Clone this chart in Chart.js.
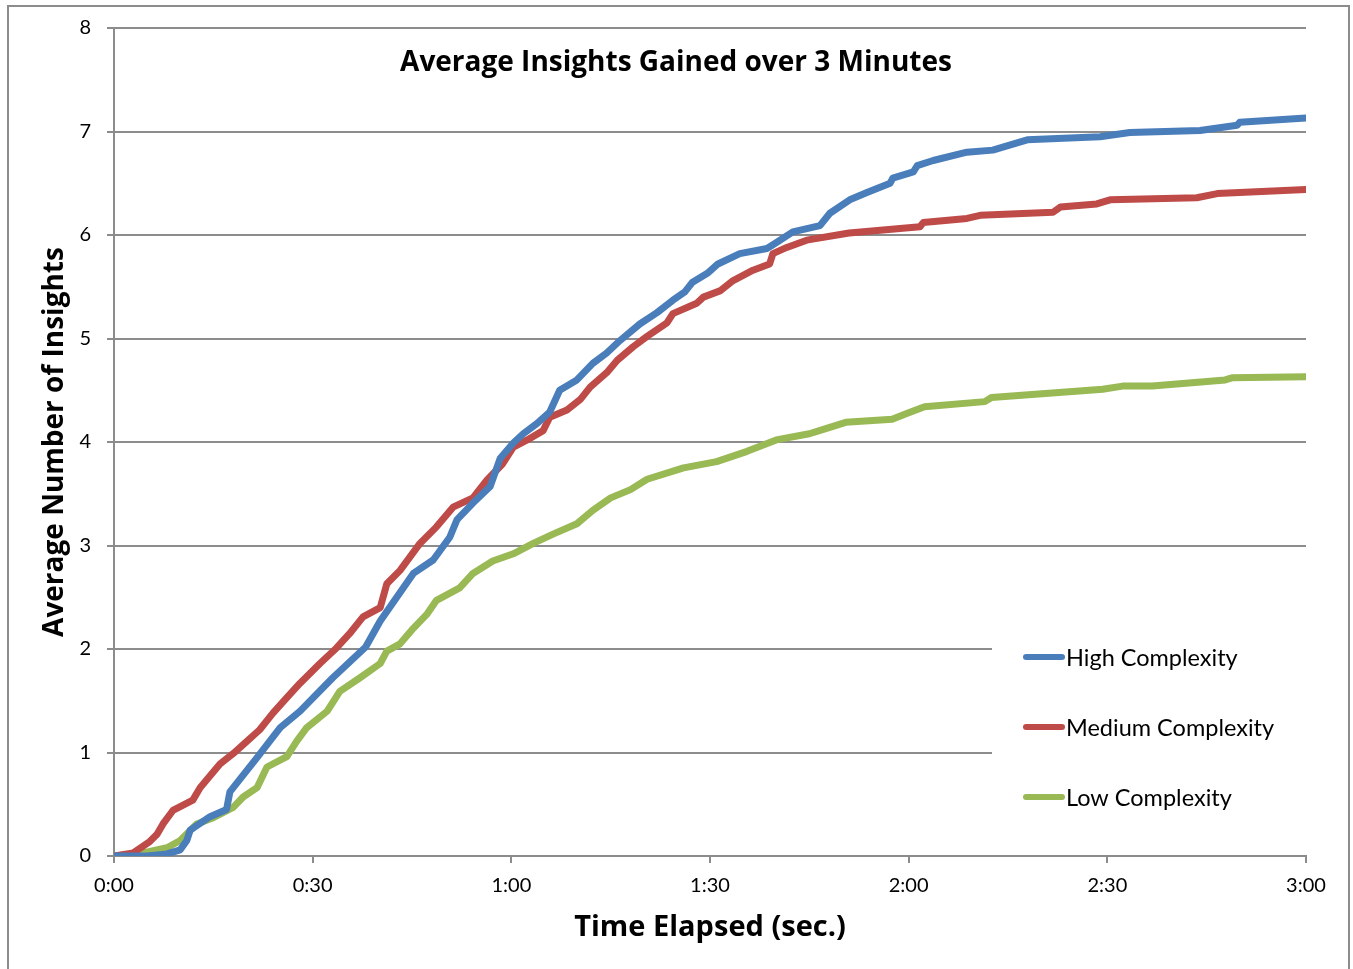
<!DOCTYPE html>
<html>
<head>
<meta charset="utf-8">
<title>Average Insights Gained over 3 Minutes</title>
<script src="https://cdn.jsdelivr.net/npm/chart.js@4.4.1/dist/chart.umd.min.js"></script>
<style>
  html, body { margin: 0; padding: 0; background: #fff; }
  canvas { display: block; }
</style>
</head>
<body>
<canvas id="insightsChart" width="1353" height="969"></canvas>
<script>
// values (time in seconds, average insights)
var seriesNames = ['High Complexity', 'Medium Complexity', 'Low Complexity'];
var seriesColors = ['#4a7ebb', '#be4b48', '#98b954'];

var highTimes = [0, 5, 8, 10, 11, 11.5, 14.5, 17, 17.5, 21.6, 25.1, 28.1, 33, 38, 40.2, 42.7, 45.2, 48.2, 50.7, 51.8, 54.2, 56.8, 58.3, 60.3, 61.8, 63.9, 65.8, 67.3, 69.9, 72.3, 74.4, 76.4, 79.4, 82, 84.4, 86.2, 87.3, 89.6, 91.2, 94.5, 98.6, 100.1, 102.5, 106.6, 108.1, 111.1, 113.7, 117.2, 117.6, 120.7, 121.3, 123.7, 128.8, 132.7, 137.9, 148.9, 153.4, 164, 169.6, 170, 180];
var highValues = [0, 0, 0.02, 0.06, 0.15, 0.25, 0.38, 0.45, 0.62, 0.95, 1.24, 1.4, 1.72, 2.02, 2.27, 2.5, 2.73, 2.86, 3.08, 3.25, 3.41, 3.57, 3.84, 3.99, 4.08, 4.18, 4.29, 4.5, 4.6, 4.76, 4.86, 4.98, 5.14, 5.25, 5.37, 5.45, 5.54, 5.63, 5.72, 5.82, 5.87, 5.93, 6.03, 6.09, 6.21, 6.34, 6.41, 6.5, 6.55, 6.61, 6.67, 6.72, 6.8, 6.82, 6.92, 6.95, 6.99, 7.01, 7.06, 7.09, 7.13];

var mediumTimes = [0, 2.9, 5.4, 6.5, 7.4, 8.9, 11.9, 13, 16, 18, 20.1, 22, 24, 26.1, 28.1, 31.1, 33.6, 35.6, 37.6, 40.2, 41.2, 43.2, 46.2, 48.7, 51.2, 54.2, 56.3, 58.7, 60.3, 62.4, 64.8, 65.8, 68.4, 70.4, 71.9, 74.4, 76, 78.4, 80.5, 83.5, 84.4, 88, 89, 91.5, 93.5, 96.5, 99, 99.5, 101.6, 104.6, 111, 121.7, 122.2, 128.8, 130.8, 141.8, 142.9, 148.4, 150.4, 163.5, 166.6, 180];
var mediumValues = [0, 0.03, 0.14, 0.21, 0.31, 0.44, 0.54, 0.66, 0.89, 0.99, 1.11, 1.22, 1.38, 1.53, 1.67, 1.86, 2.01, 2.15, 2.31, 2.4, 2.63, 2.76, 3.02, 3.18, 3.37, 3.46, 3.63, 3.79, 3.95, 4.02, 4.11, 4.24, 4.31, 4.41, 4.53, 4.67, 4.79, 4.92, 5.02, 5.15, 5.24, 5.34, 5.4, 5.46, 5.56, 5.66, 5.72, 5.82, 5.88, 5.95, 6.02, 6.08, 6.12, 6.16, 6.19, 6.22, 6.27, 6.3, 6.34, 6.36, 6.4, 6.44];

var lowTimes = [0, 4.4, 8, 10, 12.5, 15, 18, 19.5, 21.6, 23.1, 26.1, 27.6, 29.1, 32.2, 34.1, 37.1, 40.2, 41.2, 43.2, 45.2, 47.3, 48.7, 52.2, 54.2, 57.2, 60.3, 63.3, 66.3, 69.9, 72.3, 75, 78, 80.5, 86, 91, 95.6, 100, 105, 107, 110.5, 117.5, 119.9, 122.4, 131.5, 132.5, 149.3, 152.3, 156.8, 167.8, 168.8, 180];
var lowValues = [0, 0.03, 0.08, 0.15, 0.31, 0.37, 0.47, 0.57, 0.66, 0.86, 0.96, 1.11, 1.24, 1.4, 1.59, 1.72, 1.86, 1.98, 2.05, 2.2, 2.34, 2.47, 2.59, 2.73, 2.85, 2.92, 3.02, 3.11, 3.21, 3.34, 3.46, 3.54, 3.64, 3.75, 3.81, 3.91, 4.02, 4.08, 4.12, 4.19, 4.22, 4.28, 4.34, 4.39, 4.43, 4.51, 4.54, 4.54, 4.6, 4.62, 4.63];

var xTickValues = [0, 30, 60, 90, 120, 150, 180];
var xTickLabels = ['0:00', '0:30', '1:00', '1:30', '2:00', '2:30', '3:00'];
var yTickLabels = ['0', '1', '2', '3', '4', '5', '6', '7', '8'];

var FONT = 'Lato, "Open Sans", sans-serif';
var BOLD_FONT = '"Open Sans", Lato, sans-serif';
var GRID = '#8c8c8c';

function toPoints(times, values) {
  var pts = [];
  for (var i = 0; i < times.length; i++) pts.push({ x: times[i], y: values[i] });
  return pts;
}

function makeSet(i, times, values) {
  return {
    label: seriesNames[i],
    data: toPoints(times, values),
    borderColor: seriesColors[i],
    backgroundColor: seriesColors[i],
    borderWidth: 7,
    borderCapStyle: 'round',
    borderJoinStyle: 'round',
    pointRadius: 0,
    tension: 0,
    fill: false
  };
}

// title, legend box and outer frame drawn by hand to sit where the original has them
var decorations = {
  id: 'decorations',
  beforeDatasetsDraw: function(chart) {
    var ctx = chart.ctx;
    var area = chart.chartArea;
    ctx.save();
    ctx.fillStyle = '#fff';
    ctx.fillRect(992, 585, area.right - 992 + 2, 245);
    ctx.restore();
  },
  afterDraw: function(chart) {
    var ctx = chart.ctx;
    ctx.save();
    ctx.strokeStyle = GRID;
    ctx.lineWidth = 2;
    ctx.strokeRect(8, 6, 1341, 1000);

    ctx.fillStyle = '#000';
    ctx.font = 'bold 28px ' + BOLD_FONT;
    ctx.textAlign = 'center';
    ctx.textBaseline = 'middle';
    ctx.fillText('Average Insights Gained over 3 Minutes', 676, 63);

    ctx.font = '23.5px ' + FONT;
    ctx.textAlign = 'left';
    var rows = [657, 727, 797];
    chart.data.datasets.forEach(function(ds, i) {
      ctx.strokeStyle = ds.borderColor;
      ctx.lineWidth = 6;
      ctx.lineCap = 'round';
      ctx.beginPath();
      ctx.moveTo(1026, rows[i]);
      ctx.lineTo(1062, rows[i]);
      ctx.stroke();
      ctx.fillText(ds.label, 1066, rows[i] + 1);
    });
    ctx.restore();
  }
};

var ctx = document.getElementById('insightsChart');
new Chart(ctx, {
  type: 'line',
  data: {
    datasets: [
      makeSet(0, highTimes, highValues),
      makeSet(1, mediumTimes, mediumValues),
      makeSet(2, lowTimes, lowValues)
    ]
  },
  plugins: [decorations],
  options: {
    responsive: false,
    animation: false,
    devicePixelRatio: 1,
    layout: { padding: { top: 28, right: 47, left: 0, bottom: 0 } },
    plugins: {
      legend: { display: false },
      tooltip: { enabled: false }
    },
    scales: {
      x: {
        type: 'linear',
        min: 0,
        max: 180,
        afterBuildTicks: function(scale) {
          scale.ticks = xTickValues.map(function(v) { return { value: v }; });
        },
        afterFit: function(scale) { scale.height = 113; },
        ticks: {
          color: '#000',
          font: { family: FONT, size: 20 },
          padding: 11,
          maxRotation: 0,
          callback: function(value) {
            var i = xTickValues.indexOf(value);
            return i >= 0 ? xTickLabels[i] : '';
          }
        },
        grid: { drawOnChartArea: false, drawTicks: true, tickLength: 7, color: GRID, lineWidth: 2 },
        border: { color: GRID, width: 2 },
        title: {
          display: true,
          text: 'Time Elapsed (sec.)',
          color: '#000',
          font: { family: BOLD_FONT, size: 29, weight: 'bold' },
          padding: 24
        }
      },
      y: {
        min: 0,
        max: 8,
        afterFit: function(scale) { scale.width = 114; },
        ticks: {
          stepSize: 1,
          color: '#000',
          font: { family: FONT, size: 20 },
          padding: 16,
          callback: function(value) { return yTickLabels[value]; }
        },
        grid: { color: GRID, lineWidth: 2, tickLength: 7 },
        border: { color: GRID, width: 2 },
        title: {
          display: true,
          text: 'Average Number of Insights',
          color: '#000',
          font: { family: BOLD_FONT, size: 28, weight: 'bold' },
          padding: 38
        }
      }
    }
  }
});
</script>
</body>
</html>
